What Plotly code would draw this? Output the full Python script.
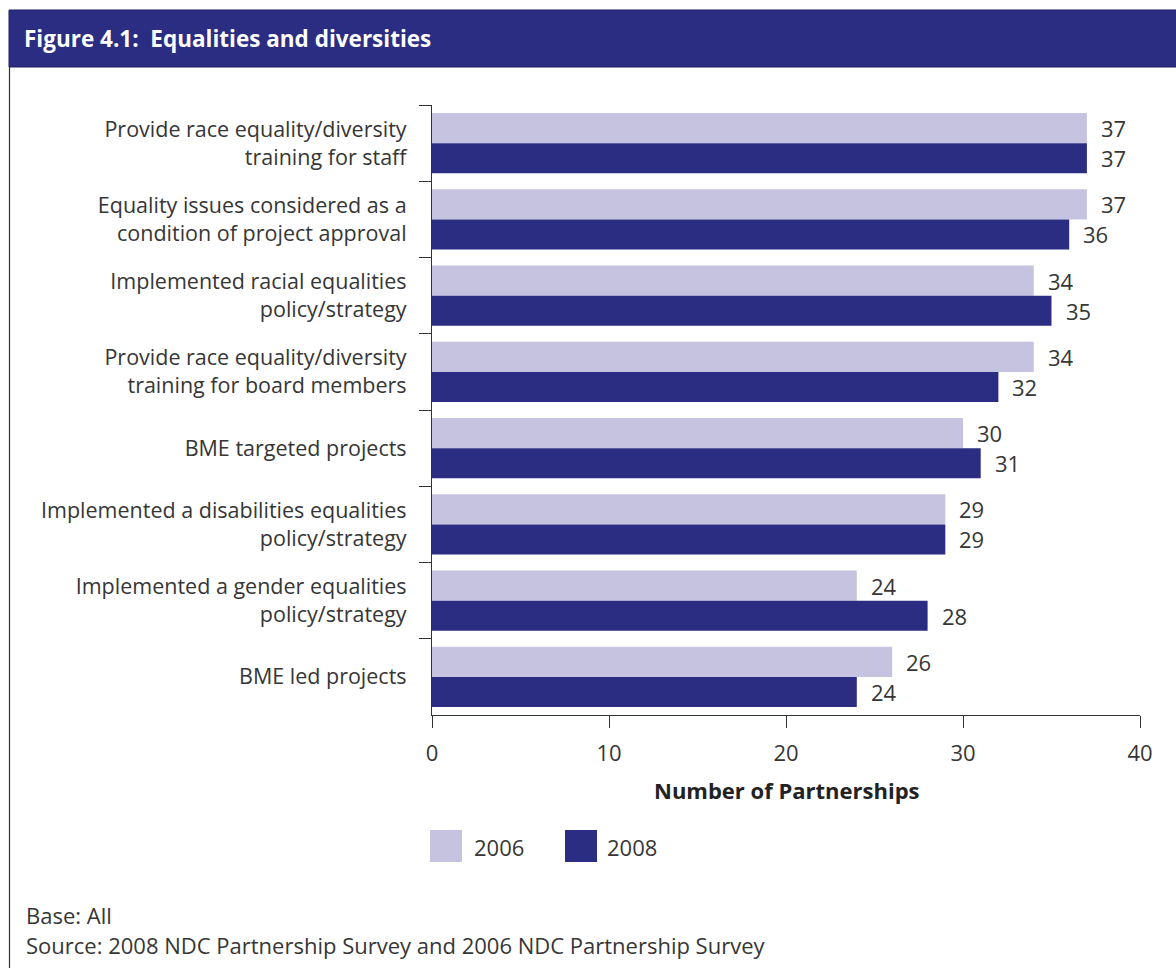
import plotly.graph_objects as go

# Survey results: number of partnerships per measure
categories = [
    "Provide race equality/diversity<br>training for staff",
    "Equality issues considered as a<br>condition of project approval",
    "Implemented racial equalities<br>policy/strategy",
    "Provide race equality/diversity<br>training for board members",
    "BME targeted projects",
    "Implemented a disabilities equalities<br>policy/strategy",
    "Implemented a gender equalities<br>policy/strategy",
    "BME led projects",
]
values_2006 = [37, 37, 34, 34, 30, 29, 24, 26]
values_2008 = [37, 36, 35, 32, 31, 29, 28, 24]
x_ticks = [0, 10, 20, 30, 40]

W, H = 1176, 968
ML, MR, MT, MB = 432, 36, 105, 253
PW, PH = W - ML - MR, H - MT - MB

LIGHT = "#c5c3df"
NAVY = "#2b2d82"
TEXT = "#363636"
FONT = "Open Sans"
FS = 22


def px(x):
    return (x - ML) / PW


def py(y):
    return (H - MB - y) / PH


fig = go.Figure()
fig.add_trace(go.Bar(y=categories, x=values_2006, orientation="h", name="2006",
                     marker=dict(color=LIGHT, line=dict(width=0))))
fig.add_trace(go.Bar(y=categories, x=values_2008, orientation="h", name="2008",
                     marker=dict(color=NAVY, line=dict(width=0))))

annotations = []
# value labels to the right of each bar
n = len(categories)
slot = PH / n
bargap = 0.21
half = slot * (1 - bargap) / 4
for vals, dy in ((values_2006, half), (values_2008, -half)):
    for c, v in zip(categories, vals):
        annotations.append(dict(x=v, y=c, xref="x", yref="y", text=str(v), showarrow=False,
                                xanchor="left", yanchor="middle", xshift=12, yshift=dy,
                                font=dict(family=FONT, size=FS, color=TEXT)))

# header title
annotations.append(dict(x=px(22), y=py(38), xref="paper", yref="paper",
                        text="<b>Figure 4.1:  Equalities and diversities</b>", showarrow=False,
                        xanchor="left", yanchor="middle",
                        font=dict(family=FONT, size=22.5, color="white")))

# axis title
annotations.append(dict(x=px(787), y=py(790), xref="paper", yref="paper",
                        text="<b>Number of Partnerships</b>", showarrow=False,
                        xanchor="center", yanchor="middle",
                        font=dict(family=FONT, size=FS, color="#222222")))

# legend entries
legend_items = [("2006", LIGHT, 430, 472), ("2008", NAVY, 565, 605)]
shapes = []
for label, col, sx, tx in legend_items:
    shapes.append(dict(type="rect", xref="paper", yref="paper",
                       x0=px(sx), x1=px(sx + 32), y0=py(862), y1=py(830),
                       fillcolor=col, line=dict(width=0)))
    annotations.append(dict(x=px(tx), y=py(847), xref="paper", yref="paper", text=label,
                            showarrow=False, xanchor="left", yanchor="middle",
                            font=dict(family=FONT, size=FS, color=TEXT)))

# footer notes
for txt, yy in (("Base: All", 915),
                ("Source: 2008 NDC Partnership Survey and 2006 NDC Partnership Survey", 945)):
    annotations.append(dict(x=px(24), y=py(yy), xref="paper", yref="paper", text=txt,
                            showarrow=False, xanchor="left", yanchor="middle",
                            font=dict(family=FONT, size=FS, color=TEXT)))

# header band and frame
shapes.append(dict(type="rect", xref="paper", yref="paper",
                   x0=px(9), x1=px(W + 5), y0=py(67), y1=py(10),
                   fillcolor=NAVY, line=dict(color="#1e205e", width=1), layer="below"))
shapes.append(dict(type="line", xref="paper", yref="paper",
                   x0=px(9.5), x1=px(9.5), y0=py(67), y1=py(H + 5),
                   line=dict(color="#333333", width=1.2)))

fig.update_layout(
    width=W, height=H,
    margin=dict(l=ML, r=MR, t=MT, b=MB, pad=0),
    paper_bgcolor="white", plot_bgcolor="white",
    barmode="group", bargap=bargap, bargroupgap=0,
    showlegend=False,
    font=dict(family=FONT, size=FS, color=TEXT),
    annotations=annotations, shapes=shapes,
    xaxis=dict(range=[0, 40], tickvals=x_ticks, ticks="outside", ticklen=12,
               tickcolor="#333333", showline=True, linecolor="#333333", linewidth=1.2,
               showgrid=False, zeroline=False, tickfont=dict(size=FS, color=TEXT),
               ticklabelstandoff=6, fixedrange=True),
    yaxis=dict(autorange="reversed", ticks="outside", ticklen=12, tickson="boundaries",
               tickcolor="#333333", showline=True, linecolor="#333333", linewidth=1.2,
               showgrid=False, tickfont=dict(size=21.5, color=TEXT), ticklabelstandoff=20),
)

fig.write_html("out.html")
